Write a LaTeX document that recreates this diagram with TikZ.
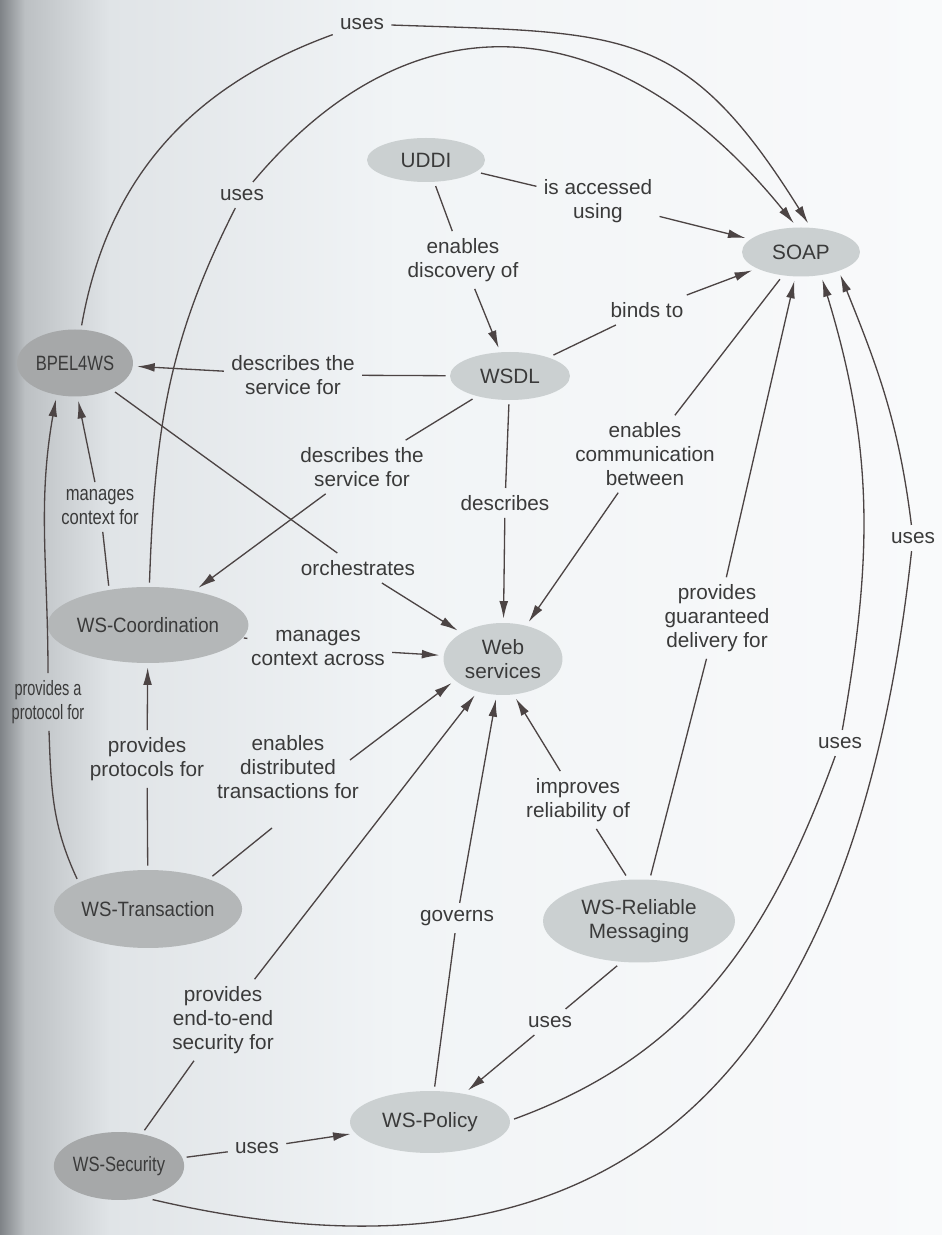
\documentclass[tikz,border=0pt]{standalone}
\usepackage{fontspec}
\setmainfont{Liberation Sans}
\newfontfamily\squeezeA[FakeStretch=0.70]{Liberation Sans}
\newfontfamily\squeezeB[FakeStretch=0.80]{Liberation Sans}
\newfontfamily\squeezeC[FakeStretch=0.90]{Liberation Sans}
\usepackage{tikz}
\usetikzlibrary{arrows.meta,shapes.geometric}
\definecolor{txtgray}{RGB}{58,58,58}
\definecolor{lnkgray}{RGB}{76,68,68}
\definecolor{ovallight}{RGB}{203,208,209}
\definecolor{ovalmid}{RGB}{180,183,184}
\definecolor{ovaldark}{RGB}{166,168,169}
\definecolor{pagea}{RGB}{127,131,135}
\definecolor{pageb}{RGB}{188,192,195}
\definecolor{pagec}{RGB}{224,228,231}
\definecolor{paged}{RGB}{241,244,246}
\definecolor{pagee}{RGB}{249,250,251}
\newcommand{\lblsize}{\fontsize{11.8}{13.5}\selectfont}
\tikzset{
concept/.style={
  ellipse,
  fill=#1,
  text=txtgray,
  inner sep=0pt,
  outer sep=2.5pt,
  align=center,
  font=\lblsize
  },
linklbl/.style={
  text=txtgray,
  align=center,
  inner sep=4pt,
  font=\lblsize
  },
link/.style={
  draw=lnkgray,
  line width=0.75pt
  }
}

\begin{document}
\begin{tikzpicture}[x=0.02cm,y=0.02cm,>={Latex[length=10pt,width=5pt]}]
            \useasboundingbox (0,0) rectangle (942,1235);
            % page shadow
            \shade[left color=pagea,right color=pageb] (0,0) rectangle (25,1235);
            \shade[left color=pageb,right color=pagec] (25,0) rectangle (110,1235);
            \shade[left color=pagec,right color=paged] (110,0) rectangle (400,1235);
            \shade[left color=paged,right color=pagee] (400,0) rectangle (942,1235);

            % concepts
            \node[concept=ovallight,minimum width=2.36cm,minimum height=0.88cm] (uddi) at (426,1075) {UDDI};
            \node[concept=ovallight,minimum width=2.36cm,minimum height=0.98cm] (soap) at (801,983) {SOAP};
            \node[concept=ovallight,minimum width=2.4cm,minimum height=0.96cm] (wsdl) at (510,859) {WSDL};
            \node[concept=ovaldark,minimum width=2.32cm,minimum height=1.34cm,font={\squeezeB\lblsize}] (bpel) at (75,872) {BPEL4WS};
            \node[concept=ovalmid,minimum width=3.26cm,minimum height=1.52cm,font={\squeezeC\lblsize}] (wscoord) at (148,610) {WS-Coordination};
            \node[concept=ovallight,minimum width=2.38cm,minimum height=1.44cm] (websvc) at (503,576) {Web\\services};
            \node[concept=ovalmid,minimum width=3.26cm,minimum height=1.56cm,font={\squeezeC\lblsize}] (wstrans) at (148,326) {WS-Transaction};
            \node[concept=ovallight,minimum width=3.84cm,minimum height=1.66cm] (wsrel) at (639,314) {WS-Reliable\\Messaging};
            \node[concept=ovallight,minimum width=3.2cm,minimum height=1.24cm] (wspolicy) at (430,113) {WS-Policy};
            \node[concept=ovaldark,minimum width=2.56cm,minimum height=1.36cm,font={\squeezeB\lblsize}] (wssec) at (119,69) {WS-Security};

            % link labels
            \node[linklbl] (usesbp) at (362,1211) {uses};
            \node[linklbl] (usescoord) at (242,1040) {uses};
            \node[linklbl] (acc) at (598,1034) {is accessed\\using};
            \node[linklbl] (disc) at (463,975) {enables\\discovery of};
            \node[linklbl] (binds) at (647,925) {binds to};
            \node[linklbl] (descbp) at (293,860) {describes the\\service for};
            \node[linklbl] (descco) at (362,768) {describes the\\service for};
            \node[linklbl] (descws) at (505,732) {describes};
            \node[linklbl] (comm) at (645,781) {enables\\communication\\between};
            \node[linklbl] (orch) at (358,667) {orchestrates};
            \node[linklbl,font={\squeezeB\lblsize}] (ctxfor) at (100,728) {manages\\context for};
            \node[linklbl] (ctxacross) at (318,587) {manages\\context across};
            \node[linklbl,font={\squeezeA\lblsize}] (protofor) at (48,533) {provides a\\protocol for};
            \node[linklbl] (protosfor) at (147,476) {provides\\protocols for};
            \node[linklbl] (distr) at (288,468) {enables\\distributed\\transactions for};
            \node[linklbl] (improv) at (578,435) {improves\\reliability of};
            \node[linklbl] (guar) at (717,617) {provides\\guaranteed\\delivery for};
            \node[linklbl] (usessec) at (913,697) {uses};
            \node[linklbl] (usespol) at (840,492) {uses};
            \node[linklbl] (gov) at (457,317) {governs};
            \node[linklbl] (usesrel) at (550,213) {uses};
            \node[linklbl] (secfor) at (223,215) {provides\\end-to-end\\security for};
            \node[linklbl] (usessp) at (257,87) {uses};
            \coordinate (dt1) at (272,407);
            \coordinate (dt2) at (350,475);

            % links to SOAP
            \draw[link] (bpel) to[out=80,in=200] (usesbp);
            \draw[link,->] (usesbp) to[out=-2,in=122,looseness=1.3] (soap.76);
            \draw[link] (wscoord) to[out=88,in=243] (usescoord);
            \draw[link,->] (usescoord) to[out=50,in=129,looseness=1.25] (soap.104);
            \draw[link] (uddi) -- (acc);
            \draw[link,->] (acc) -- (soap);
            \draw[link] (wsdl) -- (binds);
            \draw[link,->] (binds) -- (soap);
            \draw[link] (wsrel) -- (guar);
            \draw[link,->] (guar) -- (soap);
            \draw[link] (wspolicy.2) to[out=20,in=250] (usespol);
            \draw[link,->] (usespol) to[out=80,in=-73] (soap.-52);
            \draw[link] (wssec.-45) .. controls (624,-75) and (855,163) .. (usessec);
            \draw[link,->] (usessec) to[out=97,in=-68] (soap.-30);

            % links to WSDL and BPEL4WS
            \draw[link] (uddi) -- (disc);
            \draw[link,->] (disc) -- (wsdl);
            \draw[link] (wsdl) -- (descbp);
            \draw[link,->] (descbp) -- (bpel);
            \draw[link] (wscoord.135) -- (ctxfor);
            \draw[link,->] (ctxfor) -- (bpel.-85);
            \draw[link] (wstrans.157) to[out=115,in=-88] (protofor);
            \draw[link,->] (protofor) to[out=90,in=-100] (bpel.-118);

            % links to Web services
            \draw[link] (wsdl) -- (descco);
            \draw[link,->] (descco) -- (wscoord);
            \draw[link] (wsdl) -- (descws);
            \draw[link,->] (descws) -- (websvc);
            \draw[link] (soap) -- (comm);
            \draw[link,->] (comm) -- (websvc);
            \draw[link] (bpel) -- (orch);
            \draw[link,->] (orch) -- (websvc);
            \draw[link] (wscoord) -- (ctxacross);
            \draw[link,->] (ctxacross) -- (websvc);
            \draw[link] (wstrans) -- (protosfor);
            \draw[link,->] (protosfor) -- (wscoord);
            \draw[link] (wstrans.27) -- (dt1);
            \draw[link,->] (dt2) -- (websvc.205);
            \draw[link] (wsrel.106) -- (improv);
            \draw[link,->] (improv) -- (websvc.-72);
            \draw[link] (wspolicy) -- (gov);
            \draw[link,->] (gov) -- (websvc);
            \draw[link] (wssec) -- (secfor);
            \draw[link,->] (secfor) -- (websvc);

            % links to WS-Policy
            \draw[link] (wsrel.-116) -- (usesrel);
            \draw[link,->] (usesrel) -- (wspolicy);
            \draw[link] (wssec) -- (usessp);
            \draw[link,->] (usessp) -- (wspolicy);
        \end{tikzpicture}
\end{document}
